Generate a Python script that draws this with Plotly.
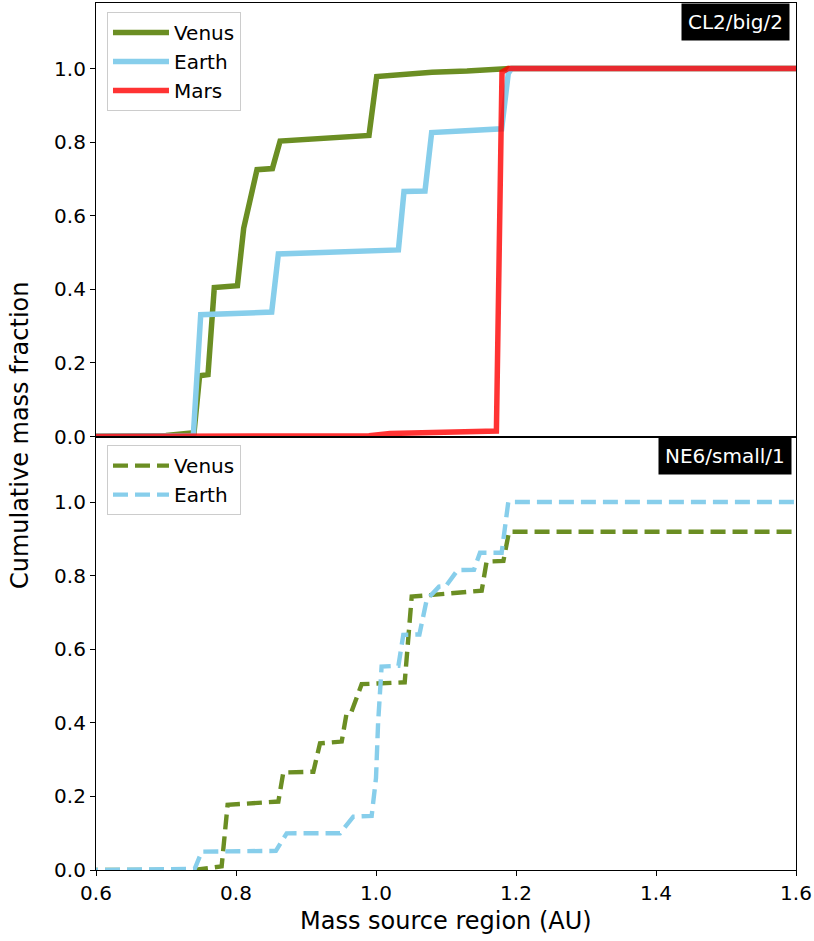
import plotly.graph_objects as go
from plotly.subplots import make_subplots

# ---------------- data ----------------
# Top panel: CL2/big/2
top_venus_x = [0.55, 0.60, 0.70, 0.740, 0.748, 0.760, 0.769, 0.802, 0.811, 0.830, 0.852, 0.863,
               0.90, 0.95, 0.990, 1.001, 1.05, 1.08, 1.13, 1.182, 1.194, 1.65]
top_venus_y = [0.0, 0.0, 0.003, 0.010, 0.165, 0.168, 0.405, 0.410, 0.566, 0.725, 0.728, 0.803,
               0.808, 0.813, 0.818, 0.978, 0.985, 0.990, 0.993, 0.996, 1.0, 1.0]

top_earth_x = [0.55, 0.60, 0.739, 0.7496, 0.851, 0.8605, 0.95, 1.032, 1.040, 1.070, 1.0795,
               1.1795, 1.189, 1.194, 1.65]
top_earth_y = [0.0, 0.0, 0.002, 0.331, 0.338, 0.496, 0.502, 0.507, 0.666, 0.667, 0.826,
               0.836, 0.987, 1.0, 1.0]

top_mars_x = [0.55, 0.60, 0.99, 1.02, 1.07, 1.08, 1.172, 1.180, 1.189, 1.65]
top_mars_y = [0.0, 0.0, 0.002, 0.008, 0.010, 0.014, 0.015, 0.990, 1.0, 1.0]

# Bottom panel: NE6/small/1
bot_venus_x = [0.55, 0.60, 0.74, 0.7795, 0.788, 0.8605, 0.8676, 0.9105, 0.920, 0.951, 0.958,
               0.965, 0.9795, 1.041, 1.051, 1.151, 1.158, 1.182, 1.190, 1.65]
bot_venus_y = [0.0, 0.0, 0.0, 0.010, 0.177, 0.186, 0.265, 0.267, 0.344, 0.349, 0.426,
               0.430, 0.505, 0.510, 0.743, 0.759, 0.838, 0.840, 0.919, 0.919]

bot_earth_x = [0.55, 0.60, 0.741, 0.751, 0.857, 0.8724, 0.9486, 0.9676, 0.9938, 1.000, 1.003,
               1.008, 1.032, 1.039, 1.062, 1.0724, 1.090, 1.100, 1.1166, 1.140, 1.1486,
               1.1795, 1.189, 1.65]
bot_earth_y = [0.0, 0.0, 0.003, 0.050, 0.052, 0.0996, 0.100, 0.145, 0.147, 0.250, 0.400,
               0.553, 0.555, 0.639, 0.640, 0.734, 0.770, 0.772, 0.815, 0.816, 0.862,
               0.862, 1.0, 1.0]

x_ticks = [0.6, 0.8, 1.0, 1.2, 1.4, 1.6]
y_ticks = [0.0, 0.2, 0.4, 0.6, 0.8, 1.0]
top_label = "CL2/big/2"
bot_label = "NE6/small/1"

VENUS = "#6B8E23"
EARTH = "#87CEEB"
MARS = "rgba(255,0,0,0.8)"
FONT = "DejaVu Sans"

fig = make_subplots(rows=2, cols=1, shared_xaxes=True, vertical_spacing=0)

fig.add_trace(go.Scatter(x=top_venus_x, y=top_venus_y, mode="lines", name="Venus",
                         line=dict(color=VENUS, width=5.5), legend="legend"), row=1, col=1)
fig.add_trace(go.Scatter(x=top_earth_x, y=top_earth_y, mode="lines", name="Earth",
                         line=dict(color=EARTH, width=5.5), legend="legend"), row=1, col=1)
fig.add_trace(go.Scatter(x=top_mars_x, y=top_mars_y, mode="lines", name="Mars",
                         line=dict(color=MARS, width=5.5), legend="legend"), row=1, col=1)

fig.add_trace(go.Scatter(x=bot_venus_x, y=bot_venus_y, mode="lines", name="Venus",
                         line=dict(color=VENUS, width=4.4, dash="15px,7px"), legend="legend2"),
              row=2, col=1)
fig.add_trace(go.Scatter(x=bot_earth_x, y=bot_earth_y, mode="lines", name="Earth",
                         line=dict(color=EARTH, width=4.4, dash="15px,7px"), legend="legend2"),
              row=2, col=1)

axis_common = dict(showline=True, mirror=True, linecolor="black", linewidth=1.2,
                   showgrid=False, zeroline=False, tickcolor="black", tickwidth=1.2,
                   ticklen=5, tickfont=dict(family=FONT, size=20, color="black"))

fig.update_xaxes(range=[0.6, 1.6], tickvals=x_ticks, tickformat=".1f", **axis_common)
fig.update_xaxes(ticks="", showticklabels=False, row=1, col=1)
fig.update_xaxes(ticks="outside", row=2, col=1)
fig.update_yaxes(range=[0, 1.178], tickvals=y_ticks, tickformat=".1f", ticks="outside",
                 **axis_common)

legend_common = dict(font=dict(family=FONT, size=20, color="black"),
                     bgcolor="rgba(255,255,255,0.8)", bordercolor="#cccccc", borderwidth=1,
                     xanchor="left", yanchor="top", itemwidth=56, tracegroupgap=0)

fig.update_layout(
    width=814, height=941,
    margin=dict(l=96, r=18, t=3, b=71),
    paper_bgcolor="white", plot_bgcolor="white",
    font=dict(family=FONT, size=20, color="black"),
    legend=dict(x=0.0157, y=0.9896, **legend_common),
    legend2=dict(x=0.0157, y=0.490, **legend_common),
    showlegend=True,
)

fig.add_annotation(text=top_label, xref="x domain", yref="y domain", x=0.9914, y=0.999,
                   xanchor="right", yanchor="top", showarrow=False, bgcolor="black",
                   borderpad=6, font=dict(family=FONT, size=20, color="white"))
fig.add_annotation(text=bot_label, xref="x2 domain", yref="y2 domain", x=0.994, y=0.999,
                   xanchor="right", yanchor="top", showarrow=False, bgcolor="black",
                   borderpad=6, font=dict(family=FONT, size=20, color="white"))

fig.add_annotation(text="Cumulative mass fraction", xref="paper", yref="paper",
                   x=-0.1085, y=0.5017, xanchor="center", yanchor="middle", textangle=-90,
                   showarrow=False, font=dict(family=FONT, size=24, color="black"))
fig.add_annotation(text="Mass source region (AU)", xref="paper", yref="paper",
                   x=0.5, y=-0.0588, xanchor="center", yanchor="middle",
                   showarrow=False, font=dict(family=FONT, size=24, color="black"))

fig.write_html("out.html")
